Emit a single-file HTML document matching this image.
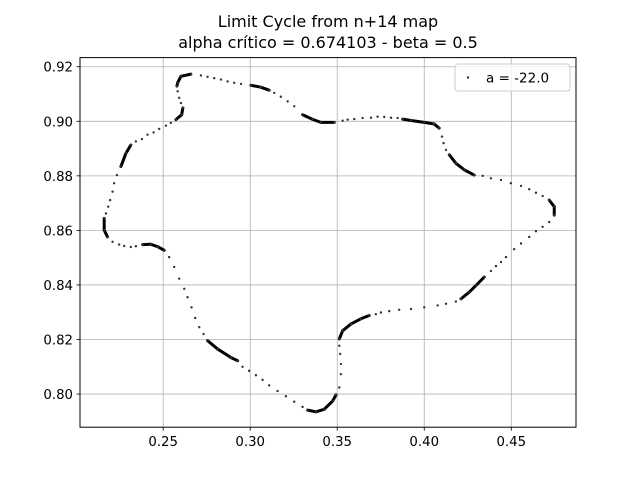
<!DOCTYPE html>
<html><head><meta charset="utf-8"><style>
body{margin:0;background:#fff}
svg{font-family:"DejaVu Sans","Liberation Sans",sans-serif}
</style></head><body>
<svg id="chart" width="640" height="480" viewBox="0 0 640 480">
<rect width="640" height="480" fill="#fff"/>
<g id="grid"></g>
<g id="marks"></g>
<rect x="80" y="57.6" width="496" height="369.6" fill="none" stroke="#000" stroke-width="1"/>
<g id="ticks"></g>
<text x="328" y="27" text-anchor="middle" font-size="16">Limit Cycle from n+14 map</text>
<text x="328" y="48" text-anchor="middle" font-size="16">alpha crítico = 0.674103 - beta = 0.5</text>
<text x="8" y="243" text-anchor="middle" font-size="17" transform="rotate(-90 8 243)">^</text>
<g>
<rect x="455" y="64" width="115" height="27" rx="3" fill="#fff" fill-opacity="0.8" stroke="#ccc"/>
<circle cx="468" cy="77.5" r="1.2" fill="#333"/>
<text x="486" y="82.5" font-size="13.5">a = -22.0</text>
</g>
</svg>
<script>
const xTicks=[0.25,0.30,0.35,0.40,0.45];
const xTickLabels=["0.25","0.30","0.35","0.40","0.45"];
const yTicks=[0.80,0.82,0.84,0.86,0.88,0.90,0.92];
const yTickLabels=["0.80","0.82","0.84","0.86","0.88","0.90","0.92"];
const xs=[.2659,.2602,.2583,.2579,.2583,.2592,.2602,.2613,.2606,.2573,.2544,.2516,.2477,.2445,.2410,.2378,.2343,.2314,.2286,.2257,.2234,.2218,.2209,.2195,.2184,.2171,.2161,.2161,.2180,.2209,.2247,.2276,.2314,.2343,.2382,.2429,.2470,.2506,.2534,.2563,.2592,.2621,.2640,.2663,.2684,.2707,.2732,.2755,.2813,.2889,.2928,.2956,.2994,.3033,.3071,.3109,.3157,.3205,.3253,.3301,.3330,.3378,.3425,.3474,.3493,.3512,.3521,.3521,.3517,.3512,.3512,.3531,.3579,.3636,.3684,.3722,.3751,.3799,.3856,.3924,.4000,.4077,.4125,.4182,.4211,.4259,.4297,.4345,.4383,.4412,.4441,.4470,.4517,.4556,.4603,.4642,.4680,.4718,.4747,.4747,.4718,.4680,.4642,.4603,.4556,.4498,.4441,.4383,.4336,.4287,.4230,.4182,.4144,.4125,.4111,.4102,.4086,.4057,.4000,.3924,.3876,.3847,.3809,.3770,.3732,.3694,.3646,.3598,.3560,.3531,.3483,.3406,.3359,.3301,.3253,.3215,.3176,.3138,.3109,.3061,.3004,.2947,.2908,.2870,.2832,.2793,.2755,.2717];
const ys=[.9173,.9165,.9141,.9129,.9110,.9086,.9067,.9049,.9024,.9006,.8994,.8984,.8972,.8959,.8951,.8935,.8926,.8913,.8883,.8834,.8803,.8773,.8742,.8711,.8687,.8662,.8644,.8601,.8576,.8558,.8548,.8543,.8539,.8542,.8548,.8549,.8540,.8527,.8502,.8466,.8423,.8386,.8355,.8318,.8279,.8245,.8220,.8196,.8165,.8134,.8122,.8100,.8085,.8069,.8052,.8032,.8011,.7992,.7972,.7953,.7941,.7935,.7944,.7975,.7997,.8024,.8073,.8110,.8147,.8177,.8202,.8232,.8257,.8276,.8288,.8293,.8299,.8304,.8309,.8312,.8318,.8325,.8331,.8339,.8349,.8374,.8398,.8429,.8451,.8469,.8484,.8502,.8531,.8552,.8576,.8597,.8613,.8631,.8656,.8687,.8711,.8726,.8738,.8751,.8763,.8773,.8785,.8791,.8800,.8803,.8822,.8846,.8877,.8895,.8920,.8944,.8975,.8990,.8996,.9003,.9008,.9012,.9013,.9016,.9017,.9013,.9012,.9008,.9006,.9002,.8996,.8996,.9007,.9024,.9055,.9073,.9090,.9104,.9114,.9125,.9132,.9137,.9141,.9146,.9153,.9158,.9163,.9168];
const dense=[1,1,1,1,0,0,0,1,1,1,0,0,0,0,0,0,0,1,1,1,0,0,0,0,0,0,1,1,1,0,0,0,0,0,1,1,1,1,0,0,0,0,0,0,0,0,0,1,1,1,1,0,0,0,0,0,0,0,0,0,1,1,1,1,1,0,0,0,0,0,1,1,1,1,1,0,0,0,0,0,0,0,0,0,1,1,1,1,0,0,0,0,0,0,0,0,0,0,1,1,1,0,0,0,0,0,0,0,0,1,1,1,1,0,0,0,1,1,1,1,1,0,0,0,0,0,0,0,0,0,1,1,1,1,0,0,0,0,1,1,1,0,0,0,0,0,0,0];
const NS="http://www.w3.org/2000/svg";
const X0=80,X1=576,Y0=57.6,Y1=427.2,xmin=0.2022,xmax=0.4872,ymin=0.78785,ymax=0.92335;
function sx(v){return X0+(v-xmin)/(xmax-xmin)*(X1-X0);}
function sy(v){return Y1-(v-ymin)/(ymax-ymin)*(Y1-Y0);}
function mk(tag,a,parent){const e=document.createElementNS(NS,tag);for(const k in a)e.setAttribute(k,a[k]);parent.appendChild(e);return e;}
const grid=document.getElementById('grid'),ticks=document.getElementById('ticks'),marks=document.getElementById('marks');
xTicks.forEach((t,i)=>{const x=sx(t);
const g=mk('line',{x1:x,x2:x,y1:Y0,y2:Y1,stroke:'#b0b0b0','stroke-width':0.8},grid);


const tk=mk('line',{x1:x,x2:x,y1:Y1,y2:Y1+3.5,stroke:'#000','stroke-width':0.8},ticks);


const tl=mk('text',{x:x,y:Y1+19,'text-anchor':'middle','font-size':13.3},ticks);tl.textContent=xTickLabels[i];

});
yTicks.forEach((t,i)=>{const y=sy(t);
const g=mk('line',{x1:X0,x2:X1,y1:y,y2:y,stroke:'#b0b0b0','stroke-width':0.8},grid);


const tk=mk('line',{x1:X0-3.5,x2:X0,y1:y,y2:y,stroke:'#000','stroke-width':0.8},ticks);


const tl=mk('text',{x:X0-7,y:y+5,'text-anchor':'end','font-size':13.3},ticks);tl.textContent=yTickLabels[i];

});
for(let i=0;i<xs.length;i++){const j=(i+1)%xs.length;
if(dense[i]&&dense[j]){const l=mk('line',{x1:sx(xs[i]),y1:sy(ys[i]),x2:sx(xs[j]),y2:sy(ys[j]),stroke:'#000','stroke-width':3,'stroke-linecap':'round'},marks);

}}
for(let i=0;i<xs.length;i++){const c=mk('circle',{cx:sx(xs[i]),cy:sy(ys[i]),r:1.2,fill:'#333'},marks);

}
</script>
</body></html>
